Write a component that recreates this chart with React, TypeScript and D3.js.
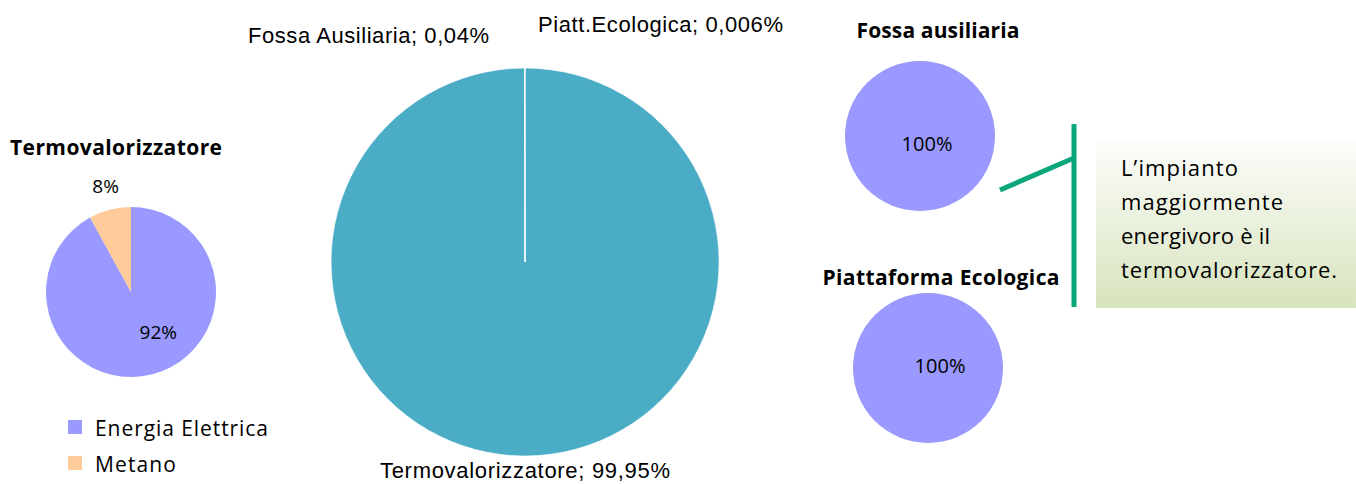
import * as d3 from 'd3';

const width = 1356;
const height = 484;

// Termovalorizzatore breakdown
const termoLabels = ['Energia Elettrica', 'Metano'];
const termoValues = [92, 8];
const termoColors = ['#9999FF', '#FFCC99'];

// share of consumption by plant
const plantLabels = ['Termovalorizzatore', 'Fossa Ausiliaria', 'Piatt.Ecologica'];
const plantValues = [99.95, 0.04, 0.006];
const plantText = ['99,95%', '0,04%', '0,006%'];

// single-source pies
const singleTitles = ['Fossa ausiliaria', 'Piattaforma Ecologica'];
const singleValues = [100, 100];

const noteLines = ["L\u2019impianto", 'maggiormente', 'energivoro è il', 'termovalorizzatore.'];
const noteWidths = [117, 162, 149, 216];
const legendWidths = [173, 81];

const calibri = '"Open Sans", Lato, sans-serif';
const arial = '"Liberation Sans", Arial, sans-serif';

const pie = d3.pie<number>().sort(null).value((d) => d);

const SmallPie = ({ cx, cy, r, values }: { cx: number; cy: number; r: number; values: number[] }) => {
  const arcs = pie(values);
  const arc = d3.arc<d3.PieArcDatum<number>>().innerRadius(0).outerRadius(r);
  return (
    <g transform={`translate(${cx},${cy})`}>
      {arcs.map((a, i) => (
        <path key={i} d={arc(a) || ''} fill={termoColors[i]} />
      ))}
    </g>
  );
};

export default function App() {
  // left pie
  const lp = { cx: 131, cy: 292, r: 85 };
  const lArcs = pie(termoValues);
  const lArc = d3.arc<d3.PieArcDatum<number>>().innerRadius(0).outerRadius(lp.r);
  const labelArc = d3.arc<d3.PieArcDatum<number>>().innerRadius(lp.r * 0.58).outerRadius(lp.r * 0.58);
  const outArc = d3.arc<d3.PieArcDatum<number>>().innerRadius(lp.r * 1.2).outerRadius(lp.r * 1.2);
  const in0 = labelArc.centroid(lArcs[0]);
  const out1 = outArc.centroid(lArcs[1]);

  // big pie
  const bp = { cx: 525, cy: 262, r: 194 };
  const bArcs = pie(plantValues);
  const bArc = d3.arc<d3.PieArcDatum<number>>().innerRadius(0).outerRadius(bp.r);

  const sp = [
    { cx: 920, cy: 136, r: 75, ty: 38, tx: 938 },
    { cx: 928, cy: 368, r: 75, ty: 285, tx: 941 },
  ];

  const green = '#0BA67C';

  return (
    <svg
      width={width}
      height={height}
      style={{ position: 'absolute', left: 0, top: 0, background: '#fff' }}
    >
      <defs>
        <linearGradient id="noteBg" x1="0" y1="0" x2="0" y2="1">
          <stop offset="0%" stopColor="#FDFDFC" />
          <stop offset="100%" stopColor="#D7E4BD" />
        </linearGradient>
      </defs>

      {/* left pie */}
      <text x={10} y={155} fontFamily={calibri} fontWeight={700} fontSize={21} textLength={212}>
        Termovalorizzatore
      </text>
      <g transform={`translate(${lp.cx},${lp.cy})`}>
        {lArcs.map((a, i) => (
          <path key={i} d={lArc(a) || ''} fill={termoColors[i]} />
        ))}
        <text
          x={in0[0] + 15}
          y={in0[1] - 6}
          textAnchor="middle"
          dominantBaseline="middle"
          fontFamily={calibri}
          fontSize={19}
        >
          {termoValues[0]}%
        </text>
        <text
          x={out1[0]}
          y={out1[1] - 5}
          textAnchor="middle"
          dominantBaseline="middle"
          fontFamily={calibri}
          fontSize={19}
        >
          {termoValues[1]}%
        </text>
      </g>
      {termoLabels.map((l, i) => (
        <g key={l} transform={`translate(68,${420 + i * 36})`}>
          <rect width={14} height={14} fill={termoColors[i]} />
          <text x={27} y={16} fontFamily={calibri} fontSize={21} textLength={legendWidths[i]}>
            {l}
          </text>
        </g>
      ))}

      {/* big pie */}
      <g transform={`translate(${bp.cx},${bp.cy})`}>
        {bArcs.map((a, i) => (
          <path key={i} d={bArc(a) || ''} fill="#4BACC6" stroke="#ffffff" strokeWidth={0.6} />
        ))}
      </g>
      <text x={bp.cx} y={bp.cy + bp.r + 22} textAnchor="middle" fontFamily={arial} fontSize={22} textLength={290}>
        {plantLabels[0]}; {plantText[0]}
      </text>
      <text x={bp.cx - 36} y={bp.cy - bp.r - 25} textAnchor="end" fontFamily={arial} fontSize={22} textLength={241}>
        {plantLabels[1]}; {plantText[1]}
      </text>
      <text x={bp.cx + 13} y={bp.cy - bp.r - 36} textAnchor="start" fontFamily={arial} fontSize={22} textLength={245}>
        {plantLabels[2]}; {plantText[2]}
      </text>

      {/* single-source pies */}
      {sp.map((p, i) => (
        <g key={singleTitles[i]}>
          <text
            x={p.tx}
            y={p.ty}
            textAnchor="middle"
            fontFamily={calibri}
            fontWeight={700}
            fontSize={21}
            textLength={i === 0 ? 163 : 237}
          >
            {singleTitles[i]}
          </text>
          <SmallPie cx={p.cx} cy={p.cy} r={p.r} values={[singleValues[i]]} />
          <text
            x={p.cx + (i === 0 ? 7 : 12)}
            y={p.cy + (i === 0 ? 10 : 0)}
            textAnchor="middle"
            dominantBaseline="middle"
            fontFamily={calibri}
            fontSize={20}
          >
            {singleValues[i]}%
          </text>
        </g>
      ))}

      {/* callout */}
      <line x1={1074} y1={124} x2={1074} y2={307} stroke={green} strokeWidth={5} />
      <line x1={1000} y1={190} x2={1074} y2={158} stroke={green} strokeWidth={5} />
      <rect x={1096} y={138} width={260} height={170} fill="url(#noteBg)" />
      {noteLines.map((l, i) => (
        <text key={i} x={1121} y={176 + i * 34} fontFamily={calibri} fontSize={22} textLength={noteWidths[i]}>
          {l}
        </text>
      ))}
    </svg>
  );
}
